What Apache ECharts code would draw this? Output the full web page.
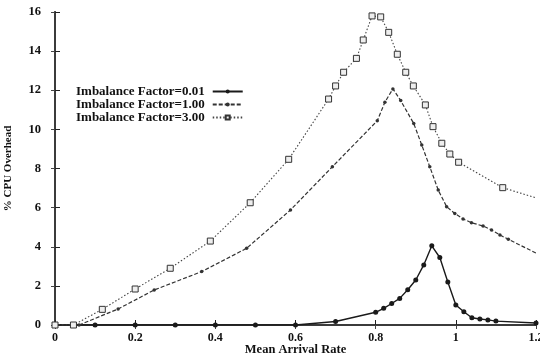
<!DOCTYPE html>
<html>
<head>
<meta charset="utf-8">
<script src="https://cdn.jsdelivr.net/npm/echarts@6/dist/echarts.min.js"></script>
<style>
  html, body { margin: 0; padding: 0; background: #fff; }
  #chart { width: 540px; height: 358px; }
</style>
</head>
<body>
<div id="chart"></div>
<script>
// Legend names
const seriesNames = ['Imbalance Factor=0.01', 'Imbalance Factor=1.00', 'Imbalance Factor=3.00'];

// Axis tick values
const xTicks = [0, 0.2, 0.4, 0.6, 0.8, 1, 1.2];
const yTicks = [0, 2, 4, 6, 8, 10, 12, 14, 16];

// Imbalance factor 0.01
const rate001 = [0, 0.1, 0.2, 0.3, 0.4, 0.5, 0.6, 0.7, 0.8, 0.82, 0.84, 0.86, 0.88, 0.9, 0.92, 0.94, 0.96, 0.98, 1.0, 1.02, 1.04, 1.06, 1.08, 1.1, 1.2];
const cpu001  = [0, 0, 0, 0, 0, 0, 0, 0.18, 0.65, 0.85, 1.1, 1.36, 1.8, 2.3, 3.07, 4.05, 3.45, 2.2, 1.02, 0.68, 0.37, 0.31, 0.26, 0.2, 0.1];

// Imbalance factor 1.00
const rate100 = [0, 0.06, 0.1575, 0.2475, 0.366, 0.478, 0.5875, 0.692, 0.804, 0.823, 0.843, 0.8625, 0.895, 0.915, 0.935, 0.956, 0.977, 0.9975, 1.018, 1.039, 1.068, 1.089, 1.11, 1.131, 1.2];
const cpu100  = [0, 0, 0.82, 1.79, 2.73, 3.92, 5.88, 8.09, 10.44, 11.39, 12.07, 11.47, 10.3, 9.2, 8.09, 6.9, 6.05, 5.7, 5.42, 5.23, 5.06, 4.86, 4.6, 4.38, 3.68];

// Imbalance factor 3.00
const rate300 = [0, 0.046, 0.118, 0.2, 0.2875, 0.3875, 0.487, 0.583, 0.6825, 0.70, 0.72, 0.752, 0.769, 0.791, 0.8125, 0.8325, 0.854, 0.875, 0.894, 0.924, 0.943, 0.965, 0.985, 1.007, 1.117, 1.2];
const cpu300  = [0, 0, 0.8, 1.84, 2.9, 4.29, 6.25, 8.47, 11.55, 12.22, 12.92, 13.63, 14.57, 15.8, 15.75, 14.96, 13.84, 12.92, 12.22, 11.25, 10.14, 9.29, 8.74, 8.32, 7.02, 6.5];

const zip = (xs, ys) => xs.map((x, i) => [x, ys[i]]);

// the two upper curves run into the right frame without a marker on their last point
const openEnded = (xs, ys) => zip(xs, ys).map((p, i, all) =>
  i === all.length - 1 ? { value: p, symbol: 'none' } : p);

const serif = '"Liberation Serif", "DejaVu Serif", serif';
const ink = '#222';

const chart = echarts.init(document.getElementById('chart'));

const labelStyle = { fontFamily: serif, fontSize: 12, fontWeight: 'bold', color: '#111' };

chart.setOption({
  animation: false,
  backgroundColor: '#fff',
  // the last x label is allowed to run off the right edge
  grid: { left: 55, right: 4, top: 12, bottom: 33, containLabel: false, outerBoundsMode: 'none' },
  legend: {
    left: 76,
    top: 85,
    padding: 0,
    orient: 'vertical',
    align: 'right',
    itemGap: 0,
    itemWidth: 30,
    itemHeight: 5,
    textStyle: { fontFamily: serif, fontSize: 13, lineHeight: 10.5, fontWeight: 'bold', color: '#111', padding: [0, 3, 0, 0] },
    data: seriesNames
  },
  xAxis: [
    {
      type: 'value', min: 0, max: 1.2, interval: 0.2,
      name: 'Mean Arrival Rate', nameLocation: 'middle', nameGap: 18, nameMoveOverlap: false,
      nameTextStyle: Object.assign({}, labelStyle, { fontSize: 12.5, verticalAlign: 'top' }),
      axisLine: { show: true, onZero: false, lineStyle: { color: ink, width: 2 } },
      axisTick: { show: true, inside: true, length: 5, lineStyle: { color: ink } },
      axisLabel: Object.assign({ margin: 7, formatter: v => (xTicks.includes(+v.toFixed(1)) ? String(+v.toFixed(1)) : '') }, labelStyle),
      splitLine: { show: false }
    },
    {
      type: 'value', position: 'top', min: 0, max: 1.2, interval: 0.2,
      axisLine: { show: true, lineStyle: { color: '#444', width: 1.5 } },
      axisTick: { show: true, inside: true, length: 4, lineStyle: { color: '#444' } },
      axisLabel: { show: false },
      splitLine: { show: false }
    }
  ],
  yAxis: [
    {
      type: 'value', min: 0, max: 16, interval: 2,
      name: '% CPU Overhead', nameLocation: 'middle', nameGap: 41,
      nameTextStyle: Object.assign({}, labelStyle, { fontSize: 11 }),
      axisLine: { show: true, onZero: false, lineStyle: { color: ink, width: 2 } },
      axisTick: { show: true, inside: true, length: 5, lineStyle: { color: ink } },
      axisLabel: Object.assign({ margin: 14, formatter: v => (yTicks.includes(v) ? String(v) : '') }, labelStyle, { fontSize: 12.5 }),
      splitLine: { show: false }
    },
    {
      type: 'value', position: 'right', min: 0, max: 16, interval: 2,
      axisLine: { show: true, lineStyle: { color: '#444', width: 1.5 } },
      axisTick: { show: true, inside: true, length: 4, lineStyle: { color: '#444' } },
      axisLabel: { show: false },
      splitLine: { show: false }
    }
  ],
  series: [
    {
      name: seriesNames[0], type: 'line', data: zip(rate001, cpu001),
      symbol: 'circle', symbolSize: 5,
      itemStyle: { color: '#1a1a1a' },
      lineStyle: { color: '#1a1a1a', width: 1.4, type: 'solid' }
    },
    {
      name: seriesNames[1], type: 'line', data: openEnded(rate100, cpu100),
      symbol: 'circle', symbolSize: 3.5,
      itemStyle: { color: '#333' },
      lineStyle: { color: '#333', width: 1.2, type: [4, 2] }
    },
    {
      name: seriesNames[2], type: 'line', data: openEnded(rate300, cpu300),
      symbol: 'rect', symbolSize: 6,
      itemStyle: { color: '#eee', borderColor: '#333', borderWidth: 1 },
      lineStyle: { color: '#444', width: 1.1, type: [1.5, 2] }
    }
  ]
});
</script>
</body>
</html>
